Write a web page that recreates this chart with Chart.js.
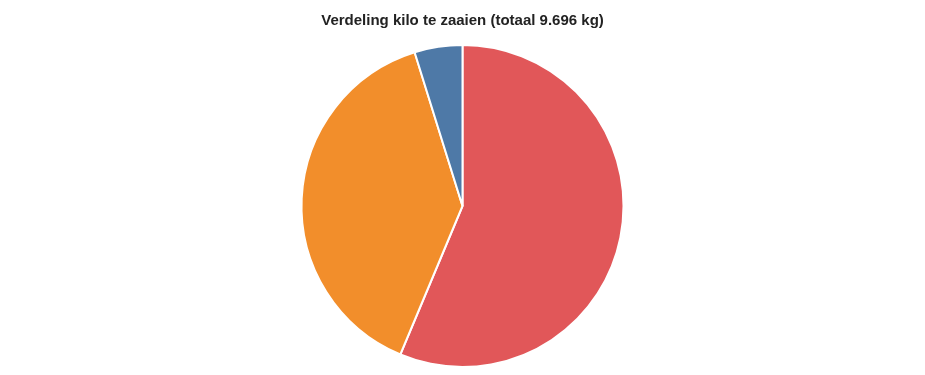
<!DOCTYPE html>
<html>
<head>
<meta charset="utf-8">
<script src="https://cdn.jsdelivr.net/npm/chart.js@4"></script>
<style>
  html, body { margin: 0; padding: 0; background: #fff; }
  #wrap { width: 925px; height: 375px; }
</style>
</head>
<body>
<div id="wrap"><canvas id="myChart"></canvas></div>
<script>
// Data for the chart
const categories = ['Gras', 'Klaver', 'Kruiden'];
const kilos = [5460, 3770, 466];
const sliceColors = ['#e15759', '#f28e2b', '#4e79a7'];

const chartCanvas = document.getElementById('myChart');

const myChart = new Chart(chartCanvas, {
  type: 'pie',
  data: {
    labels: categories,
    datasets: [
      {
        data: kilos,
        backgroundColor: sliceColors,
        borderColor: '#ffffff',
        borderWidth: 2,
      },
    ],
  },
  options: {
    responsive: true,
    maintainAspectRatio: false,
    animation: false,
    layout: {
      padding: { top: 0, bottom: 7 },
    },
    plugins: {
      legend: { display: false },
      title: {
        display: true,
        text: 'Verdeling kilo te zaaien (totaal 9.696 kg)',
        color: '#222',
        font: { family: 'Liberation Sans, Arial, sans-serif', size: 15, weight: 'bold' },
        padding: { top: 12, bottom: 14 },
      },
    },
  },
});
</script>
</body>
</html>
